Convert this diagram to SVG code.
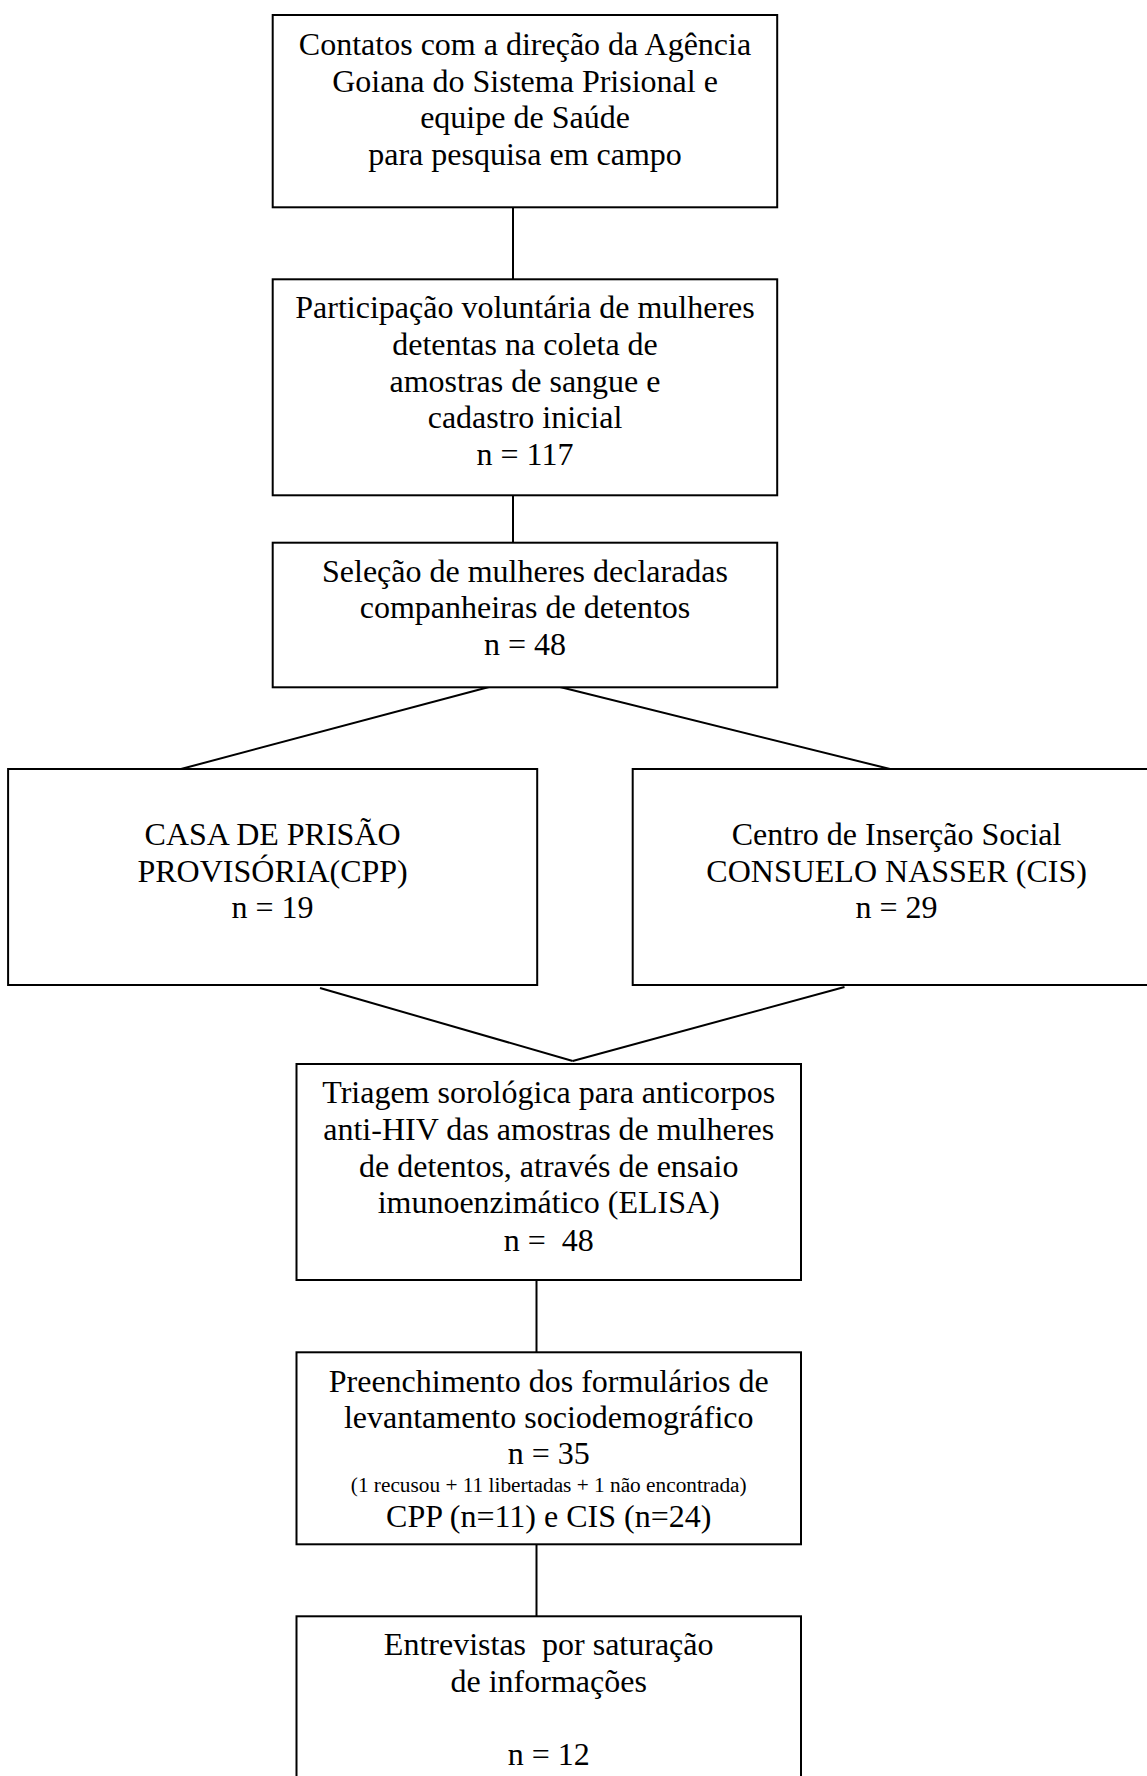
<svg xmlns="http://www.w3.org/2000/svg" width="1147" height="1776" viewBox="0 0 1147 1776">
<style>
.box{fill:#fff;stroke:#000;stroke-width:2}
.t{font-family:"Liberation Serif","Times New Roman",serif;font-size:32px;fill:#000;text-anchor:middle}
.s{font-size:21.3px}
.c{stroke:#000;stroke-width:2;fill:none}
</style>
<rect width="1147" height="1776" fill="#fff"/>
<g id="connectors">
<line class="c" x1="513" y1="207" x2="513" y2="279"/>
<line class="c" x1="513" y1="495" x2="513" y2="543"/>
<line class="c" x1="489" y1="687" x2="181" y2="769"/>
<line class="c" x1="560" y1="687" x2="890" y2="769"/>
<line class="c" x1="320" y1="988" x2="572.7" y2="1061"/>
<line class="c" x1="844.5" y1="987" x2="572.7" y2="1061"/>
<line class="c" x1="536.5" y1="1280" x2="536.5" y2="1352"/>
<line class="c" x1="536.5" y1="1544" x2="536.5" y2="1616"/>
</g>
<g id="n1">
<rect class="box" x="272.7" y="15" width="504.5" height="192.3"/>
<text class="t" x="525" y="55">Contatos com a direção da Agência</text>
<text class="t" x="525" y="91.7">Goiana do Sistema Prisional e</text>
<text class="t" x="525" y="128.3">equipe de Saúde</text>
<text class="t" x="525" y="165">para pesquisa em campo</text>
</g>
<g id="n2">
<rect class="box" x="272.7" y="279.3" width="504.5" height="216"/>
<text class="t" x="525" y="318.3">Participação voluntária de mulheres</text>
<text class="t" x="525" y="355">detentas na coleta de</text>
<text class="t" x="525" y="391.7">amostras de sangue e</text>
<text class="t" x="525" y="428.3">cadastro inicial</text>
<text class="t" x="525" y="465">n = 117</text>
</g>
<g id="n3">
<rect class="box" x="272.7" y="542.7" width="504.5" height="144.6"/>
<text class="t" x="525" y="581.7">Seleção de mulheres declaradas</text>
<text class="t" x="525" y="618.3">companheiras de detentos</text>
<text class="t" x="525" y="655">n = 48</text>
</g>
<g id="n4">
<rect class="box" x="8.1" y="769" width="529.1" height="216"/>
<text class="t" x="272.6" y="845">CASA DE PRISÃO</text>
<text class="t" x="272.6" y="881.7">PROVISÓRIA(CPP)</text>
<text class="t" x="272.6" y="918.3">n = 19</text>
</g>
<g id="n5">
<rect class="box" x="632.7" y="769" width="528" height="216"/>
<text class="t" x="896.6" y="845">Centro de Inserção Social</text>
<text class="t" x="896.6" y="881.7">CONSUELO NASSER (CIS)</text>
<text class="t" x="896.6" y="918.3">n = 29</text>
</g>
<g id="n6">
<rect class="box" x="296.5" y="1064" width="504.5" height="216"/>
<text class="t" x="548.7" y="1103.3">Triagem sorológica para anticorpos</text>
<text class="t" x="548.7" y="1140">anti-HIV das amostras de mulheres</text>
<text class="t" x="548.7" y="1176.7">de detentos, através de ensaio</text>
<text class="t" x="548.7" y="1213.3">imunoenzimático (ELISA)</text>
<text class="t" x="548.7" y="1250.7" xml:space="preserve">n =  48</text>
</g>
<g id="n7">
<rect class="box" x="296.5" y="1352.3" width="504.5" height="192"/>
<text class="t" x="548.7" y="1391.7">Preenchimento dos formulários de</text>
<text class="t" x="548.7" y="1428.3">levantamento sociodemográfico</text>
<text class="t" x="548.7" y="1464.3">n = 35</text>
<text class="t s" x="548.7" y="1491.7">(1 recusou + 11 libertadas + 1 não encontrada)</text>
<text class="t" x="548.7" y="1526.7">CPP (n=11) e CIS (n=24)</text>
</g>
<g id="n8">
<rect class="box" x="296.5" y="1616.3" width="504.5" height="200"/>
<text class="t" x="548.7" y="1655" xml:space="preserve">Entrevistas  por saturação</text>
<text class="t" x="548.7" y="1691.7">de informações</text>
<text class="t" x="548.7" y="1765">n = 12</text>
</g>
</svg>
